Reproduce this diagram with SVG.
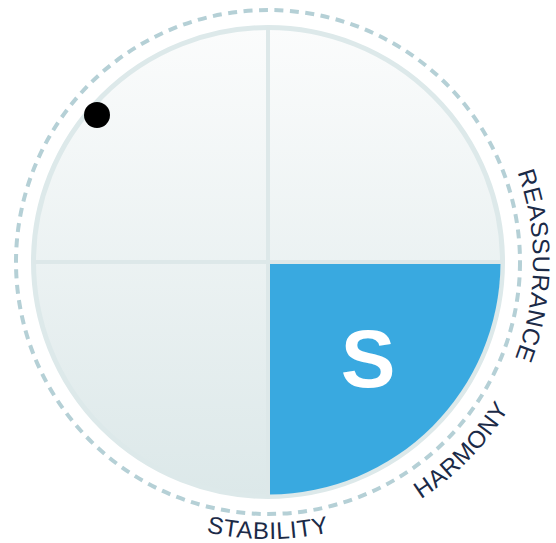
<svg xmlns="http://www.w3.org/2000/svg" width="556" height="543" viewBox="0 0 556 543">
  <defs>
    <linearGradient id="bg" x1="0" y1="0" x2="0" y2="1">
      <stop offset="0" stop-color="#fbfcfc"/>
      <stop offset="1" stop-color="#dce8e9"/>
    </linearGradient>
    <path id="pReassurance" d="M458.1,77.4 A265,265 0 0,1 452.6,452.2"/>
    <path id="pHarmony" d="M271.9,544 A282,282 0 0,0 550,258.1"/>
    <path id="pStability" d="M72.1,457.9 A277,277 0 0,0 463.9,457.9"/>
    <style>
      .label { font-family: "Liberation Sans", Arial, sans-serif; font-size: 24px; fill: #1b2a47; letter-spacing: 0.7px; }
      .divider { stroke: #dde8e9; stroke-width: 4; }
    </style>
  </defs>
  <rect width="556" height="543" fill="#ffffff"/>
  <g id="outer-ring">
    <circle cx="268" cy="262" r="252" fill="none" stroke="#b5d0d6" stroke-width="4" stroke-dasharray="9 6.5"/>
  </g>
  <g id="wheel">
    <circle cx="268" cy="262" r="234.5" fill="url(#bg)" stroke="#dde9ea" stroke-width="5"/>
    <line class="divider" x1="268" y1="27" x2="268" y2="497"/>
    <line class="divider" x1="33" y1="262" x2="503" y2="262"/>
  </g>
  <g id="quadrant-s">
    <path d="M270,264 L500.5,264 A232.5,232.5 0 0,1 270,494.5 Z" fill="#39a9e0"/>
    <text x="368" y="387" text-anchor="middle" font-family="Liberation Sans, Arial, sans-serif" font-weight="bold" font-size="82" fill="#ffffff">S</text>
  </g>
  <g id="marker-dot">
    <circle cx="97" cy="115" r="13" fill="#000000"/>
  </g>
  <g id="labels">
    <text class="label"><textPath href="#pReassurance" startOffset="50%" text-anchor="middle">REASSURANCE</textPath></text>
    <text class="label"><textPath href="#pHarmony" startOffset="50%" text-anchor="middle">HARMONY</textPath></text>
    <text class="label"><textPath href="#pStability" startOffset="50%" text-anchor="middle">STABILITY</textPath></text>
  </g>
  <g id="connectors"/>
</svg>
